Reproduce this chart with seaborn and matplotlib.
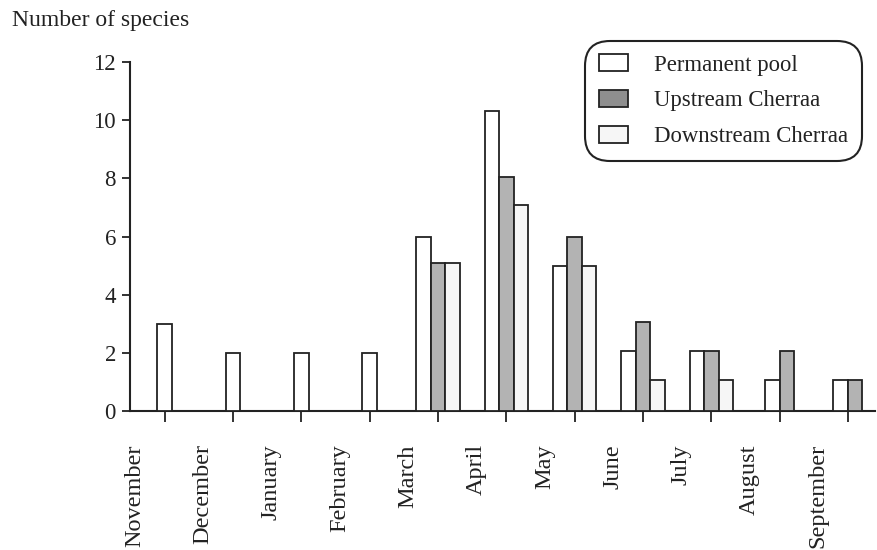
import numpy as np
import pandas as pd
import seaborn as sns
import matplotlib.pyplot as plt
from matplotlib.patches import Patch

# Data (nan = no bar drawn for that site/month)
months = ['November', 'December', 'January', 'February', 'March', 'April',
          'May', 'June', 'July', 'August', 'September']
permanent_pool = [3, 2, 2, 2, 6, 10.3, 5, 2.05, 2.05, 1.05, 1.05]
upstream_cherraa = [np.nan, np.nan, np.nan, np.nan, 5.1, 8.05, 6, 3.05, 2.05, 2.05, 1.05]
downstream_cherraa = [np.nan, np.nan, np.nan, np.nan, 5.1, 7.1, 5, 1.05, 1.05, np.nan, np.nan]

series_names = ['Permanent pool', 'Upstream Cherraa', 'Downstream Cherraa']
bar_colors = ['white', '#b3b3b3', '#f6f6f6']
legend_colors = ['white', '#8e8e8e', '#f6f6f6']

df = pd.DataFrame({'month': months,
                   'Permanent pool': permanent_pool,
                   'Upstream Cherraa': upstream_cherraa,
                   'Downstream Cherraa': downstream_cherraa})
long_df = df.melt(id_vars='month', var_name='site', value_name='species').dropna()
long_df['month_idx'] = long_df['month'].map({m: i for i, m in enumerate(months)})
long_df['site_idx'] = long_df['site'].map({s: i for i, s in enumerate(series_names)})
long_df = long_df.sort_values(['month_idx', 'site_idx'])

# bars present in a month are centred on that month's tick
bar_w = 0.212
long_df['rank'] = long_df.groupby('month_idx').cumcount()
long_df['n'] = long_df.groupby('month_idx')['species'].transform('count')
long_df['pos'] = long_df['month_idx'] + (long_df['rank'] - (long_df['n'] - 1) / 2) * bar_w

sns.set_theme(style='ticks')
plt.rcParams['font.family'] = ['Liberation Serif', 'DejaVu Serif']

fig = plt.figure(figsize=(8.77, 5.5), dpi=100)
ax = fig.add_axes([0.148, 0.2527, 0.85, 0.6345])

for name, col in zip(series_names, bar_colors):
    sub = long_df[long_df['site'] == name]
    ax.bar(sub['pos'], sub['species'], width=bar_w, color=col,
           edgecolor='#222222', linewidth=1.3, zorder=3)

ax.set_ylim(0, 12)
ax.set_xlim(-0.51, 10.4)
ax.set_yticks(range(0, 13, 2))
ax.tick_params(axis='y', labelsize=16.5, length=6, width=1.3, colors='#222222', pad=4)

ax.set_xticks(range(len(months)))
ax.set_xticklabels([])
ax.tick_params(axis='x', which='major', length=8, width=1.3, colors='#222222')
ax.set_xticks(np.arange(len(months)) - 0.44, minor=True)
ax.set_xticklabels(months, minor=True, rotation=90, fontsize=17.5, va='top', ha='center')
ax.tick_params(axis='x', which='minor', length=0, pad=24, labelcolor='#222222')

sns.despine(ax=ax)
for side in ['left', 'bottom']:
    ax.spines[side].set_linewidth(1.5)
    ax.spines[side].set_color('#222222')

fig.text(0.014, 0.963, 'Number of species', fontsize=17, va='center', ha='left', color='#222222')

handles = [Patch(facecolor=c, edgecolor='#222222', linewidth=1.3) for c in legend_colors]
leg = ax.legend(handles, series_names, loc='upper right', bbox_to_anchor=(0.978, 0.918),
                bbox_transform=fig.transFigure, borderaxespad=0, fontsize=16.4,
                handlelength=1.27, handleheight=0.79, handletextpad=1.18,
                labelspacing=0.62, fancybox=True, framealpha=1, borderpad=0.4)
leg.get_frame().set_edgecolor('#222222')
leg.get_frame().set_linewidth(1.5)
leg.get_frame().set_boxstyle('round,pad=0.2,rounding_size=1.1')
for t in leg.get_texts():
    t.set_color('#222222')

fig.savefig('out.png', dpi=100)
